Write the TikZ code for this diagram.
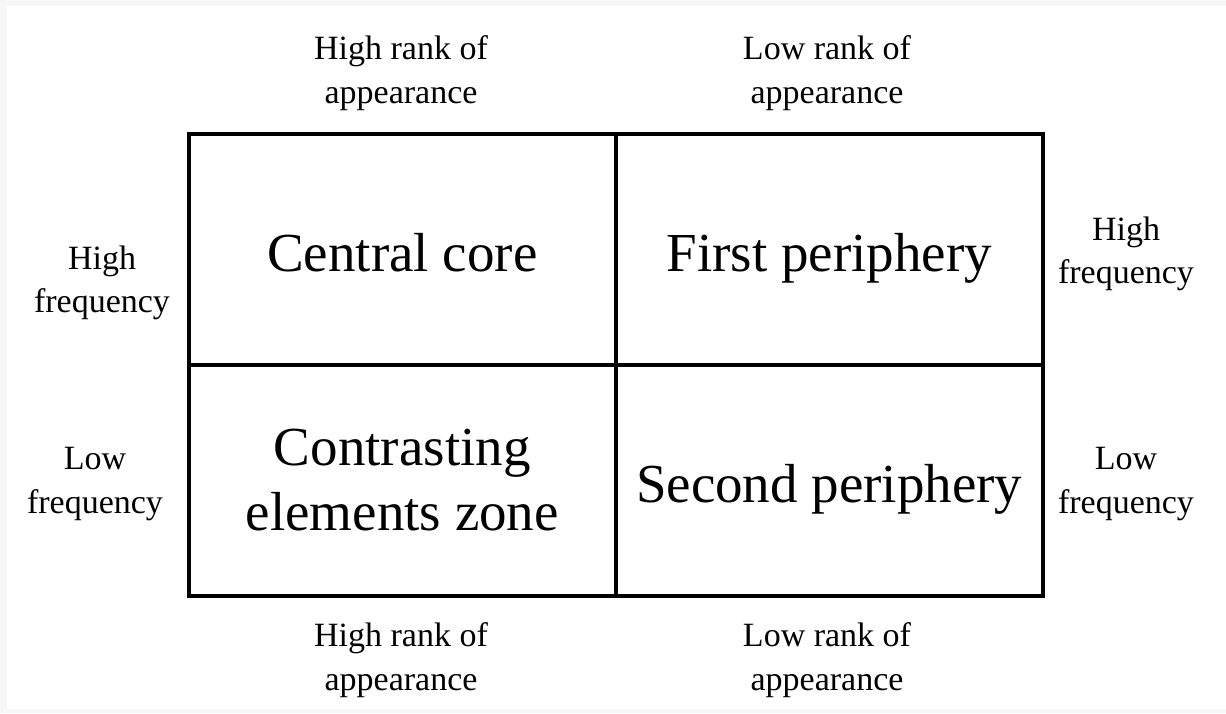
\documentclass[tikz,border=0pt]{standalone}
\usepackage{fontspec}
\setmainfont{Liberation Serif}
\begin{document}
\begin{tikzpicture}[x=1pt,y=-1pt,
  cell/.style={draw=black,line width=3.5pt,minimum width=427pt,minimum height=231pt,inner sep=0pt,anchor=north west,font=\fontsize{55}{65}\selectfont,align=center},
  oneline/.style={text height=50pt,text depth=5pt},
  lab/.style={inner sep=0pt,align=center,font=\fontsize{34}{43.5}\selectfont}]
\fill[gray!6] (0,0) rectangle (1226,713);
\fill[white] (7,6) rectangle (1226,709);
\useasboundingbox (0,0) rectangle (1226,713);
\node[cell,oneline] (cc) at (187,132) {Central core};
\node[cell,oneline] (fp) at (614,132) {First periphery};
\node[cell] (ce) at (187,363) {Contrasting\\elements zone};
\node[cell,oneline] (sp) at (614,363) {Second periphery};
\node[lab] (t1) at (401,73) {High rank of\\appearance};
\node[lab] (t2) at (827,73) {Low rank of\\appearance};
\node[lab] (b1) at (401,660) {High rank of\\appearance};
\node[lab] (b2) at (827,660) {Low rank of\\appearance};
\node[lab] (l1) at (102,283) {High\\frequency};
\node[lab] (l2) at (95,484) {Low\\frequency};
\node[lab] (r1) at (1126,254) {High\\frequency};
\node[lab] (r2) at (1126,484) {Low\\frequency};
\end{tikzpicture}
\end{document}
